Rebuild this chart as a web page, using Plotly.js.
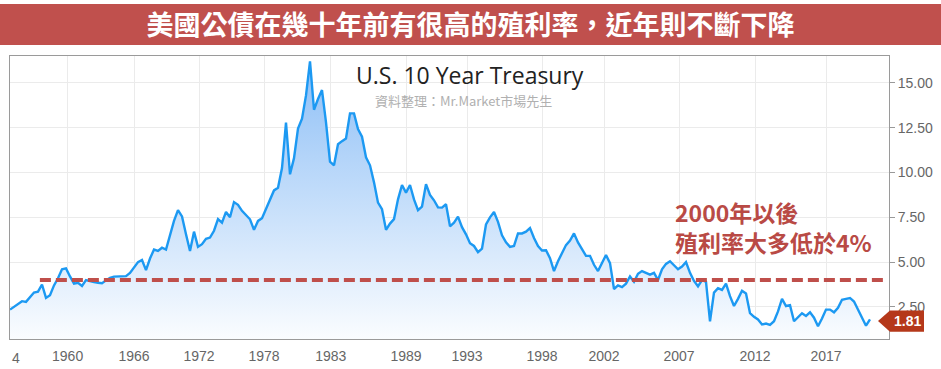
<!DOCTYPE html>
<html>
<head>
<meta charset="utf-8">
<script src="https://cdn.plot.ly/plotly-3.0.1.min.js"></script>
<style>html,body{margin:0;padding:0;background:#fff;}#chart{width:941px;height:369px;}</style>
</head>
<body>
<div id="chart"></div>
<script>
// Tick labels of the (index-based) time axis and where they sit among the samples
const tickYears = ['1960','1966','1972','1978','1983','1989','1993','1998','2002','2007','2012','2017'];
const tickIndex = [14.4, 31, 47.25, 63.5, 80.2, 99, 114.25, 133, 148.5, 167.25, 186.25, 204];
const firstYearLabel = '1954';   // only its last digit is visible at the cropped left edge

// U.S. 10 year treasury yield (%), equally spaced samples
const yields = [
 2.35,2.5,2.7,2.82,2.78,3.05,3.3,3.35,3.75,3.0,
 3.15,3.7,4.1,4.6,4.65,4.2,3.8,3.85,3.67,4.0,
 3.92,3.88,3.85,3.82,3.98,4.12,4.19,4.19,4.19,4.22,
 4.4,4.72,5.0,5.12,4.55,5.2,5.7,5.62,5.8,5.7,
 6.5,7.3,7.9,7.55,6.55,5.62,6.7,5.85,6.0,6.3,
 6.37,6.75,7.4,7.2,7.8,7.5,8.35,8.2,7.86,7.65,
 7.39,6.8,7.3,7.45,8.0,8.47,9.0,9.15,10.25,12.79,
 9.9,10.8,12.45,13.0,14.3,16.2,13.5,14.1,14.6,12.8,
 10.6,10.4,11.58,11.75,11.9,13.3,13.3,12.42,12.0,10.85,
 10.4,9.45,8.32,7.95,6.8,7.15,7.4,8.5,9.3,8.88,
 9.3,8.5,7.9,8.1,9.35,8.75,8.45,8.05,8.04,8.23,
 7.0,7.2,7.54,6.95,6.55,6.05,5.9,5.55,5.75,7.1,
 7.5,7.8,7.25,6.5,6.1,5.85,5.9,6.6,6.6,6.7,
 6.9,6.35,5.9,5.65,5.66,5.22,4.5,5.05,5.5,5.95,
 6.2,6.6,6.1,5.75,5.35,5.35,4.85,4.5,4.95,5.4,
 4.94,3.5,3.7,3.6,3.8,4.2,3.9,4.35,4.5,4.4,
 4.3,4.4,4.0,4.6,4.9,5.05,4.8,4.6,4.75,5.0,
 4.4,3.95,3.65,4.0,3.9,1.7,3.3,3.55,3.45,3.8,
 3.1,2.55,2.95,3.4,3.25,2.15,1.95,1.8,1.52,1.57,
 1.5,1.7,2.25,2.95,2.55,2.6,1.7,1.9,2.15,2.0,
 2.2,1.9,1.42,1.85,2.35,2.35,2.2,2.45,2.9,2.95,
 3.0,2.8,2.35,1.9,1.45,1.81
];
const lastValue = 1.81;
const threshold = 4;

const banner = '美國公債在幾十年前有很高的殖利率，近年則不斷下降';
const chartTitle = 'U.S. 10 Year Treasury';
const source = '資料整理：Mr.Market市場先生';
const note = '2000年以後<br>殖利率大多低於4%';

const sampleIndex = yields.map((_, i) => i);

const trace = {
  type: 'scatter', mode: 'lines',
  x: sampleIndex, y: yields,
  line: {color: '#1c99f2', width: 2.4},
  fill: 'tozeroy',
  fillgradient: {type: 'vertical', start: 0, stop: 16.5,
    colorscale: [[0, 'rgba(255,255,255,1)'], [1, 'rgba(140,190,246,1)']]},
  hoverinfo: 'skip', showlegend: false
};

const cjk = '"Noto Sans CJK TC", "Noto Sans", sans-serif';
const red = '#b94a45';
const tickFont = {family: '"Liberation Sans", Arial, sans-serif', size: 14, color: '#666'};

const layout = {
  width: 941, height: 369,
  margin: {l: 10, r: 52, t: 56, b: 30},
  paper_bgcolor: '#ffffff', plot_bgcolor: '#ffffff',
  title: {text: '<b>' + banner + '</b>', x: 0.5, xref: 'container', xanchor: 'center',
          y: 0.932, yref: 'container', yanchor: 'middle',
          font: {family: cjk, size: 27, color: '#ffffff'}},
  xaxis: {
    range: [0, 219.75], tickmode: 'array', tickvals: tickIndex, ticktext: tickYears,
    showgrid: true, gridcolor: '#ebebeb', gridwidth: 1, zeroline: false,
    showline: true, linecolor: '#9a9a9a', linewidth: 1, mirror: true,
    ticks: '', ticklabelstandoff: 4, tickfont: tickFont
  },
  yaxis: {
    side: 'right', range: [0.71, 16.5], tick0: 0, dtick: 2.5, tickformat: '.2f',
    showgrid: true, gridcolor: '#ebebeb', gridwidth: 1, zeroline: false,
    showline: true, linecolor: '#9a9a9a', linewidth: 1, mirror: true,
    ticks: 'outside', ticklen: 5, tickcolor: '#999', tickfont: tickFont
  },
  shapes: [
    {type: 'rect', xref: 'paper', yref: 'paper', x0: -0.012, x1: 1.06, y0: 1.0389, y1: 1.1837,
     fillcolor: '#c0504d', line: {width: 0}, layer: 'above'},
    {type: 'line', xref: 'paper', yref: 'y', x0: 0.034, x1: 0.995, y0: threshold, y1: threshold,
     line: {color: '#bf4f4b', width: 4, dash: '11px,5px'}, layer: 'above'},
    {type: 'path', xref: 'paper', yref: 'y',
     path: 'M 0.9875,1.71 L 1.0011,2.3 L 1.0398,2.3 L 1.0398,1.12 L 1.0011,1.12 Z',
     fillcolor: '#b5381a', line: {width: 0}, layer: 'above'}
  ],
  annotations: [
    {xref: 'paper', yref: 'paper', x: 0.5233, y: 0.933, xanchor: 'center', yanchor: 'middle',
     text: chartTitle, showarrow: false, font: {family: '"Open Sans", sans-serif', size: 23, color: '#222'}},
    {xref: 'paper', yref: 'paper', x: 0.5154, y: 0.842, xanchor: 'center', yanchor: 'middle',
     text: source, showarrow: false, font: {family: cjk, size: 13, color: '#b0b0b0'}},
    {xref: 'paper', yref: 'paper', x: 0.7543, y: 0.396, xanchor: 'left', yanchor: 'middle', align: 'left',
     text: '<b>' + note + '</b>', showarrow: false, font: {family: cjk, size: 23, color: red}},
    {xref: 'paper', yref: 'y', x: 1.0205, y: 1.71, xanchor: 'center', yanchor: 'middle',
     text: '<b>' + lastValue.toFixed(2) + '</b>', showarrow: false,
     font: {family: '"Liberation Sans", Arial, sans-serif', size: 14, color: '#ffffff'}},
    {xref: 'paper', yref: 'paper', x: 0.0001, y: 0, xanchor: 'left', yanchor: 'top', yshift: -9,
     text: firstYearLabel.slice(-1), showarrow: false, font: tickFont}
  ]
};

Plotly.newPlot('chart', [trace], layout, {displayModeBar: false, staticPlot: true});
</script>
</body>
</html>
